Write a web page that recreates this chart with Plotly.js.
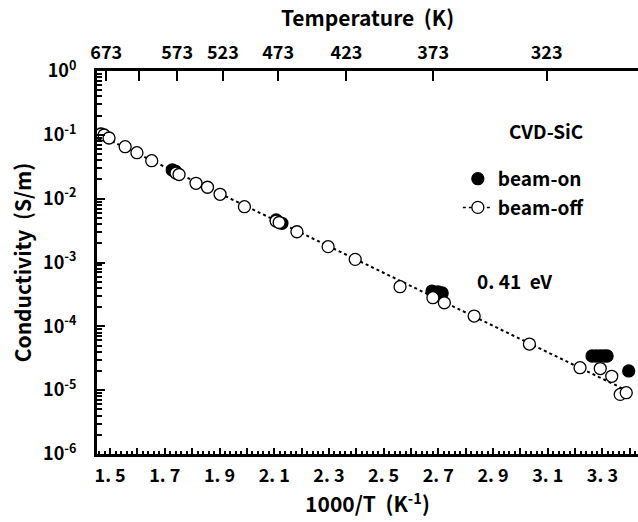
<!DOCTYPE html>
<html>
<head>
<meta charset="utf-8">
<script src="https://cdn.plot.ly/plotly-3.0.1.min.js"></script>
<style>html,body{margin:0;padding:0;background:#fff;}#chart{width:638px;height:522px;}</style>
</head>
<body>
<div id="chart"></div>
<script>
// beam-off (open circles)
const offX = [1.467, 1.478, 1.496, 1.555, 1.598, 1.652, 1.741, 1.752, 1.814, 1.856, 1.902, 1.991, 2.107, 2.118, 2.183, 2.297, 2.396, 2.560, 2.680, 2.722, 2.831, 3.033, 3.218, 3.292, 3.334, 3.365, 3.387];
const offY = [0.103, 0.0994, 0.0892, 0.0652, 0.0525, 0.0393, 0.0252, 0.0239, 0.0174, 0.0151, 0.0117, 0.00748, 0.00447, 0.00423, 0.00303, 0.00177, 0.00112, 4.18e-4, 2.81e-4, 2.34e-4, 1.45e-4, 5.28e-5, 2.25e-5, 2.18e-5, 1.65e-5, 8.58e-6, 9.12e-6];
// beam-on (filled circles)
const onX = [1.727, 1.738, 2.107, 2.128, 2.677, 2.699, 2.714, 3.262, 3.277, 3.292, 3.306, 3.317, 3.396];
const onY = [0.0281, 0.0271, 0.00463, 0.00411, 3.57e-4, 3.45e-4, 3.33e-4, 3.43e-5, 3.43e-5, 3.43e-5, 3.43e-5, 3.43e-5, 2.0e-5];
// top axis temperatures (labelled) and the unlabelled 623 K tick
const tempK = [673, 573, 523, 473, 423, 373, 323];
const tempLabels = ['673', '573', '523', '473', '423', '373', '323'];
const tempUnlabelled = [623];
// bottom tick labels
const xTickVals = [1.5, 1.7, 1.9, 2.1, 2.3, 2.5, 2.7, 2.9, 3.1, 3.3];
const xTickText = ['1. 5', '1. 7', '1. 9', '2. 1', '2. 3', '2. 5', '2. 7', '2. 9', '3. 1', '3. 3'];
const yTickVals = [1, 0.1, 0.01, 0.001, 1e-4, 1e-5, 1e-6];
const yTickText = ['10<sup>0</sup>', '10<sup>-1</sup>', '10<sup>-2</sup>', '10<sup>-3</sup>', '10<sup>-4</sup>', '10<sup>-5</sup>', '10<sup>-6</sup>'];

// least-squares Arrhenius fit on beam-off
const ly = offY.map(v => Math.log10(v));
const n = offX.length;
const mx = offX.reduce((a, b) => a + b, 0) / n;
const my = ly.reduce((a, b) => a + b, 0) / n;
let sxy = 0, sxx = 0;
for (let i = 0; i < n; i++) { sxy += (offX[i] - mx) * (ly[i] - my); sxx += (offX[i] - mx) ** 2; }
const slope = sxy / sxx, icpt = my - slope * mx;
const fx = [Math.min(...offX), Math.max(...offX)];
const fy = fx.map(x => Math.pow(10, icpt + slope * x));

const minorY = [];
for (let d = -6; d < 0; d++) for (let k = 2; k <= 9; k++) minorY.push(k * Math.pow(10, d));

const FONT = 'Noto Sans CJK JP, sans-serif';
const mk = {size: 12, line: {color: 'black', width: 1.3}};

const traces = [
  {x: fx, y: fy, mode: 'lines', line: {color: 'black', width: 2, dash: 'dot'}, showlegend: false, hoverinfo: 'skip'},
  {x: onX, y: onY, mode: 'markers', name: 'beam-on', legendgroup: 'a', marker: Object.assign({color: 'black'}, mk)},
  {x: offX, y: offY, mode: 'markers', name: 'beam-off', showlegend: false, marker: Object.assign({color: 'white'}, mk)},
  {x: [null], y: [null], mode: 'lines+markers', name: 'beam-off', legendgroup: 'b', line: {color: 'black', width: 1.5, dash: 'dot'}, marker: Object.assign({color: 'white'}, mk)},
  {x: [null], y: [null], xaxis: 'x2', mode: 'markers', showlegend: false},
  {x: [null], y: [null], xaxis: 'x3', mode: 'markers', showlegend: false},
  {x: [null], y: [null], xaxis: 'x4', mode: 'markers', showlegend: false}
];

const xr = [1.452, 3.43];
const layout = {
  width: 638, height: 522,
  margin: {l: 97, r: 0, t: 71, b: 68},
  paper_bgcolor: 'white', plot_bgcolor: 'white',
  font: {family: FONT, color: 'black', weight: 'bold'},
  showlegend: true,
  legend: {x: 0.667, xanchor: 'left', y: 0.768, yanchor: 'top', bgcolor: 'rgba(0,0,0,0)', font: {size: 19, family: FONT, weight: 'bold'}, tracegroupgap: 1, traceorder: 'grouped'},
  xaxis: {
    range: xr, showgrid: false, zeroline: false,
    showline: true, linecolor: 'black', linewidth: 3, mirror: false,
    ticks: 'inside', ticklen: 6, tickwidth: 2, tickcolor: 'black',
    tickmode: 'array', tickvals: xTickVals, ticktext: xTickText,
    ticklabelstandoff: 3,
    tickfont: {size: 18, family: FONT, weight: 'bold'},
    minor: {ticks: 'inside', ticklen: 3, tickwidth: 2, tickcolor: 'black', dtick: 0.02, showgrid: false},
    title: {text: '1000/T  (K<sup>-1</sup>)', font: {size: 21, family: FONT, weight: 'bold'}, standoff: 0}
  },
  xaxis3: {
    overlaying: 'x', side: 'bottom', anchor: 'y', range: xr, showgrid: false, zeroline: false,
    showline: false, showticklabels: false,
    ticks: 'inside', ticklen: 6, tickwidth: 2, tickcolor: 'black', tick0: 1.5, dtick: 0.1
  },
  xaxis2: {
    overlaying: 'x', side: 'top', anchor: 'y', range: xr, showgrid: false, zeroline: false,
    showline: true, linecolor: 'black', linewidth: 3,
    ticks: 'inside', ticklen: 10, tickwidth: 2, tickcolor: 'black',
    tickmode: 'array', tickvals: tempK.map(t => 1000 / t), ticktext: tempLabels,
    ticklabelstandoff: 2,
    tickfont: {size: 18, family: FONT, weight: 'bold'},
    title: {text: 'Temperature  (K)', font: {size: 21, family: FONT, weight: 'bold'}, standoff: 6}
  },
  xaxis4: {
    overlaying: 'x', side: 'top', anchor: 'y', range: xr, showgrid: false, zeroline: false,
    showline: false, showticklabels: false,
    ticks: 'inside', ticklen: 10, tickwidth: 2, tickcolor: 'black',
    tickmode: 'array', tickvals: tempUnlabelled.map(t => 1000 / t)
  },
  yaxis: {
    type: 'log', range: [-6, 0], showgrid: false, zeroline: false,
    showline: true, linecolor: 'black', linewidth: 3,
    ticks: 'inside', ticklen: 8, tickwidth: 2, tickcolor: 'black',
    tickmode: 'array', tickvals: yTickVals, ticktext: yTickText,
    ticklabelstandoff: 14,
    tickfont: {size: 18, family: FONT, weight: 'bold'},
    minor: {ticks: 'inside', ticklen: 5, tickwidth: 2, tickcolor: 'black', tickvals: minorY, showgrid: false},
    title: {text: 'Conductivity  (S/m)', font: {size: 21, family: FONT, weight: 'bold'}, standoff: 6}
  },
  annotations: [
    {xref: 'paper', yref: 'paper', x: 0.83, y: 0.844, xanchor: 'center', yanchor: 'middle', text: 'CVD-SiC', showarrow: false, font: {size: 19, family: FONT, weight: 'bold'}},
    {xref: 'paper', yref: 'paper', x: 0.772, y: 0.453, xanchor: 'center', yanchor: 'middle', text: '0. 41  eV', showarrow: false, font: {size: 19, family: FONT, weight: 'bold'}}
  ]
};

Plotly.newPlot('chart', traces, layout, {displayModeBar: false, staticPlot: true});
</script>
</body>
</html>
